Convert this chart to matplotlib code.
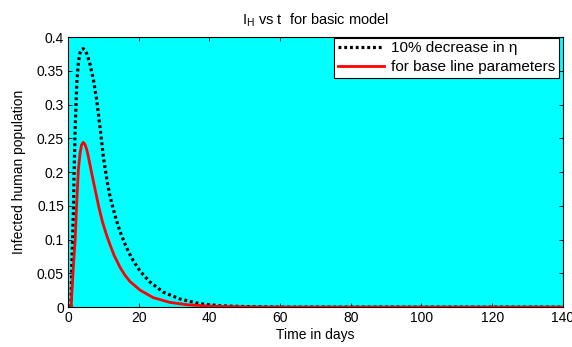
import matplotlib
matplotlib.use('Agg')
import matplotlib.pyplot as plt
from matplotlib.ticker import FuncFormatter

plt.rcParams['font.family'] = ['Liberation Sans', 'DejaVu Sans']

# 10% decrease in eta (black dotted)
t_eta = [0.8, 1.2, 1.5, 1.7, 2.0, 2.45, 2.9, 3.4, 3.9, 4.3, 4.8, 5.4, 6.2,
         7.2, 8.1, 9.0, 10.0, 11.0, 11.7, 12.6, 13.6, 14.7, 15.9, 17.0, 18.3,
         20.4, 23.2, 27.0, 31.7, 37.3, 43.0, 50.0, 60.0, 80.0, 100.0, 120.0,
         140.0]
i_eta = [0.0, 0.09, 0.14, 0.20, 0.262, 0.330, 0.362, 0.377, 0.382, 0.383,
         0.381, 0.374, 0.360, 0.336, 0.307, 0.268, 0.222, 0.188, 0.168, 0.149,
         0.130, 0.112, 0.096, 0.083, 0.070, 0.053, 0.037, 0.022, 0.012, 0.005,
         0.002, 0.0008, 0.0, 0.0, 0.0, 0.0, 0.0]

# base line parameters (red)
t_base = [0.85, 1.5, 2.0, 2.5, 2.9, 3.4, 3.8, 4.3, 4.8, 5.3, 5.7, 6.2, 6.7,
          7.3, 7.9, 8.8, 9.8, 11.0, 11.9, 13.0, 14.7, 16.0, 17.5, 20.4, 24.1,
          28.8, 33.6, 41.0, 50.0, 60.0, 80.0, 100.0, 120.0, 140.0]
i_base = [0.0, 0.06, 0.099, 0.160, 0.203, 0.228, 0.240, 0.244, 0.241, 0.233,
          0.224, 0.211, 0.198, 0.183, 0.168, 0.146, 0.125, 0.105, 0.092,
          0.077, 0.059, 0.048, 0.038, 0.025, 0.014, 0.007, 0.0035, 0.0012,
          0.0003, 0.0, 0.0, 0.0, 0.0, 0.0]

fig = plt.figure(figsize=(5.72, 3.47), dpi=100)
ax = fig.add_axes([0.119, 0.115, 0.865, 0.778])
ax.set_facecolor('#00FFFF')

ax.plot(t_eta, i_eta, color='black', linewidth=2.3, linestyle=(0, (0.9, 0.9)),
        dash_capstyle='butt', label='10% decrease in η')
ax.plot(t_base, i_base, color='#FF0000', linewidth=2.0,
        label='for base line parameters')

ax.set_xlim(0, 140)
ax.set_ylim(0, 0.4)
ax.set_xticks(range(0, 141, 20))
ax.set_yticks([0, 0.05, 0.1, 0.15, 0.2, 0.25, 0.3, 0.35, 0.4])
ax.yaxis.set_major_formatter(FuncFormatter(lambda v, p: '%g' % round(v, 2)))
ax.tick_params(direction='in', top=True, right=True, labelsize=10, length=3,
               width=0.6, pad=3)
for s in ax.spines.values():
    s.set_linewidth(0.8)

ax.set_xlabel('Time in days', fontsize=10, labelpad=2)
ax.set_ylabel('Infected human population', fontsize=10, labelpad=8)
ax.set_title(r'I$_{\mathregular{H}}$ vs t  for basic model', fontsize=10.5, pad=9)

leg = ax.legend(loc='upper right', bbox_to_anchor=(0.992, 0.998),
                borderaxespad=0, fontsize=11, frameon=True, fancybox=False,
                edgecolor='black', framealpha=1, handlelength=3.0,
                handletextpad=0.45, borderpad=0.25, labelspacing=0.3)
leg.get_frame().set_linewidth(0.8)

fig.savefig('out.png', dpi=100)
